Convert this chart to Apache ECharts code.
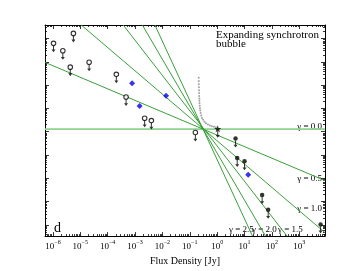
<!DOCTYPE html>
<html><head><meta charset="utf-8">
<script src="https://cdn.jsdelivr.net/npm/echarts@6/dist/echarts.min.js"></script>
<style>html,body{margin:0;padding:0;background:#fff}#c{width:361px;height:271px}</style>
</head><body><div id="c"></div>
<script>
// ---- data (flux density in Jy, y in arbitrary units) ----
const xMajorExp = [-6, -5, -4, -3, -2, -1, 0, 1, 2, 3];
const yMajorExp = [-4, -3, -2, -1, 0, 1, 2, 3, 4];

// open circles, upper limits
const openLimX = [1.05e-6, 2.3e-6, 5.6e-6, 4.3e-6, 2.1e-5, 2.07e-4, 4.7e-4, 2.24e-3, 3.95e-3, 0.16];
const openLimY = [6.2e3, 3.0e3, 1.66e4, 5.9e2, 9.6e2, 2.9e2, 31, 3.8, 3.0, 0.93];
// blue diamonds (detections)
const blueX = [7.8e-4, 1.47e-3, 1.36e-2, 13.6];
const blueY = [119, 12.7, 35, 1.41e-2];
// filled circles, upper limits
const filledLimX = [4.7, 5.4, 10, 44, 73, 6.0e3];
const filledLimY = [0.51, 0.075, 0.054, 1.9e-3, 4.5e-4, 1.05e-4];
// star (upper limit)
const starX = [1.05];
const starY = [1.33];
// grey model curve
const greyX = [0.212,0.212,0.214,0.216,0.218,0.219,0.221,0.223,0.225,0.227,0.231,0.235,0.241,0.249,0.262,0.280,0.305,0.343,0.392,0.460,0.545,0.645,0.764,0.904];
const greyY = [206,151,108,81,60.6,45.5,34,26.8,21.1,16.6,13.0,10.2,8.05,6.34,4.98,3.92,3.23,2.67,2.31,2.04,1.85,1.71,1.62,1.54];
// gamma lines: endpoints [x, y] where they leave the frame
const gamma00 = [[5.1e-7, 1.3], [8.8e3, 1.3]];
const gamma05 = [[5.2e-7, 940], [8.8e3, 7.9e-3]];
const gamma10 = [[1.08e-5, 3.8e4], [8.8e3, 4.6e-5]];
const gamma15 = [[3.7e-4, 3.8e4], [358, 3.3e-5]];
const gamma20 = [[1.85e-3, 3.8e4], [58.5, 3.3e-5]];
const gamma25 = [[5.3e-3, 3.8e4], [19.6, 3.3e-5]];
const gammaLabels = ['γ = 0.0', 'γ = 0.5', 'γ = 1.0', 'γ = 2.5', 'γ = 2.0', 'γ = 1.5'];

// ---- helpers ----
const L = Math.log10;
const pts = (xs, ys) => xs.map((x, i) => [L(x), L(ys[i])]);
const seg = a => a.map(p => [L(p[0]), L(p[1])]);
const X_MIN = -6.29, X_MAX = 3.94, Y_MIN = -4.48, Y_MAX = 4.58;
function minors(lo, hi) {
  const out = [];
  for (let n = Math.floor(lo) - 1; n <= Math.ceil(hi); n++)
    for (let k = 2; k <= 9; k++) { const v = n + L(k); if (v > lo && v < hi) out.push(v); }
  return out;
}
const serif = 'Liberation Serif';
const arrowPath = 'path://M-0.5,0 L0.5,0 L0.5,6 L2,6 L0,10 L-2,6 L-0.5,6 Z';
const starPath = 'path://M0,-10 L2.35,-3.24 L9.51,-3.09 L3.8,1.24 L5.88,8.09 L0,4 L-5.88,8.09 L-3.8,1.24 L-9.51,-3.09 L-2.35,-3.24 Z';
const sup = e => (e < 0 ? '−' + (-e) : '' + e);

function xAx(pos, major, labels) {
  return {
    type: 'value', min: X_MIN, max: X_MAX, position: pos,
    axisLine: { show: major, onZero: false, lineStyle: { color: '#000', width: 1 } },
    axisTick: { show: true, inside: true, length: major ? 4 : 2, lineStyle: { color: '#000', width: 0.8 },
      customValues: major ? xMajorExp : minors(X_MIN, X_MAX) },
    axisLabel: labels ? {
      show: true, margin: 3, customValues: xMajorExp,
      formatter: v => '{b|10}{s|' + sup(Math.round(v)) + '}',
      rich: {
        b: { fontFamily: serif, fontSize: 9, color: '#000', verticalAlign: 'bottom', lineHeight: 12 },
        s: { fontFamily: serif, fontSize: 6, color: '#000', verticalAlign: 'top', lineHeight: 7 }
      }
    } : { show: false },
    splitLine: { show: false },
    name: labels ? 'Flux Density [Jy]' : '', nameLocation: 'middle', nameGap: 16,
    nameTextStyle: { fontFamily: serif, fontSize: 10, color: '#000' }
  };
}
function yAx(pos, major) {
  return {
    type: 'value', min: Y_MIN, max: Y_MAX, position: pos,
    axisLine: { show: major, onZero: false, lineStyle: { color: '#000', width: 1 } },
    axisTick: { show: true, inside: true, length: major ? 4 : 2, lineStyle: { color: '#000', width: 0.8 },
      customValues: major ? yMajorExp : minors(Y_MIN, Y_MAX) },
    axisLabel: { show: false }, splitLine: { show: false }
  };
}

const green = '#3a9f3a';
const lineSer = (data, color, width) => ({
  type: 'line', data: seg(data), showSymbol: false, symbol: 'none', clip: true, silent: true,
  lineStyle: { color: color, width: width }, z: 2
});

const option = {
  animation: false,
  grid: { left: 45, top: 25, width: 280, height: 217, show: false },
  xAxis: [xAx('bottom', true, true), xAx('bottom', false, false), xAx('top', true, false), xAx('top', false, false)],
  yAxis: [yAx('left', true), yAx('left', false), yAx('right', true), yAx('right', false)],
  series: [
    lineSer(gamma00, '#8fd18f', 1.8),
    lineSer(gamma05, green, 1), lineSer(gamma10, green, 1), lineSer(gamma15, green, 1),
    lineSer(gamma20, green, 1), lineSer(gamma25, green, 1),
    { type: 'scatter', data: pts(greyX, greyY), symbol: 'circle', symbolSize: 2, itemStyle: { color: '#8a8a8a' }, z: 3 },
    // arrows for upper limits
    { type: 'scatter', data: pts(openLimX, openLimY).concat(pts(filledLimX, filledLimY), pts(starX, starY)),
      symbol: arrowPath, symbolSize: [4, 7], symbolKeepAspect: false, symbolOffset: [0, 5.5], itemStyle: { color: '#000' }, z: 4 },
    { type: 'scatter', data: pts(openLimX, openLimY), symbol: 'circle', symbolSize: 4.5,
      itemStyle: { color: '#fff', borderColor: '#000', borderWidth: 1.1 }, z: 5 },
    { type: 'scatter', data: pts(filledLimX, filledLimY), symbol: 'circle', symbolSize: 4.5,
      itemStyle: { color: '#000' }, z: 5 },
    { type: 'scatter', data: pts(starX, starY), symbol: starPath, symbolSize: 7, itemStyle: { color: '#000' }, z: 5 },
    { type: 'scatter', data: pts(blueX, blueY), symbol: 'diamond', symbolSize: 6, itemStyle: { color: '#0000ee' }, z: 5 }
  ],
  graphic: [
    { type: 'text', left: 216, top: 30, style: { text: 'Expanding synchrotron\nbubble', font: '11px "Liberation Serif"', fill: '#000', lineHeight: 9 } },
    { type: 'text', left: 54, top: 221, style: { text: 'd', font: '14px "Liberation Serif"', fill: '#000' } },
    { type: 'text', right: 39, top: 122, style: { text: gammaLabels[0], font: '9px "Liberation Serif"', fill: '#000' } },
    { type: 'text', right: 39, top: 174, style: { text: gammaLabels[1], font: '9px "Liberation Serif"', fill: '#000' } },
    { type: 'text', right: 39, top: 204, style: { text: gammaLabels[2], font: '9px "Liberation Serif"', fill: '#000' } },
    { type: 'text', left: 229, top: 225, style: { text: gammaLabels[3], font: '9px "Liberation Serif"', fill: '#000' } },
    { type: 'text', left: 252, top: 225, style: { text: gammaLabels[4], font: '9px "Liberation Serif"', fill: '#000' } },
    { type: 'text', left: 278, top: 225, style: { text: gammaLabels[5], font: '9px "Liberation Serif"', fill: '#000' } }
  ]
};
echarts.init(document.getElementById('c'), null, { renderer: 'canvas' }).setOption(option);
</script></body></html>
